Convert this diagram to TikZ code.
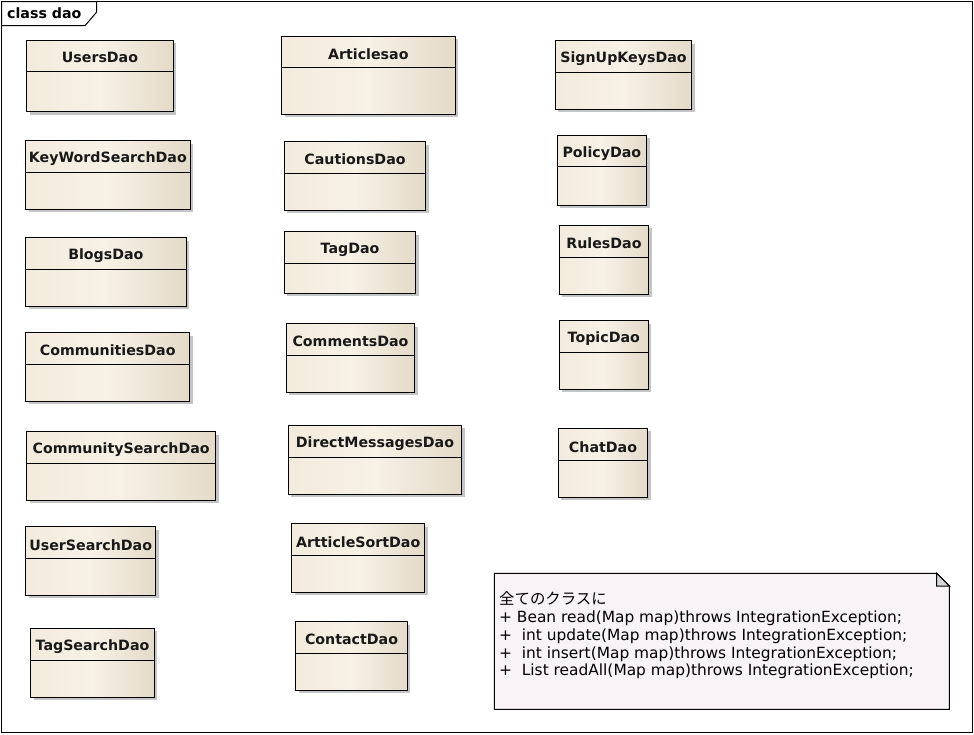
\documentclass[tikz,border=0pt]{standalone}
\usepackage{fontspec}
\setmainfont{DejaVu Sans}
\newfontfamily\jpfont{Noto Sans CJK JP}
\usetikzlibrary{shadows}

\definecolor{clsL}{HTML}{F3EBDC}
\definecolor{clsM}{HTML}{F7F1E6}
\definecolor{clsR}{HTML}{E4DAC8}
\definecolor{notefill}{HTML}{F7F3F7}
\definecolor{foldfill}{HTML}{D8D5D9}

\tikzset{
  classbox/.style={anchor=north west, draw=black, line width=1pt,
    inner sep=0pt, outer sep=0pt,
    left color=clsL, right color=clsR, middle color=clsM,
    drop shadow={shadow xshift=3pt, shadow yshift=-3pt, fill=black!45, opacity=0.5}},
  classline/.style={draw=black, line width=1pt},
  classtitle/.style={font=\fontsize{14.2}{16}\selectfont\bfseries, inner sep=0pt, text=black!90},
  frameline/.style={draw=black, line width=1pt},
  notebox/.style={draw=black, line width=1pt, fill=notefill},
  notetext/.style={font=\fontsize{15.4}{17.8}\selectfont, align=left, inner sep=0pt, anchor=north west},
}

% one UML class: name, left, top, right, bottom, divider y, title
\newcommand\daoclass[7]{%
  \node[classbox, minimum width={(#4-#2)*1pt}, minimum height={(#5-#3)*1pt}] (#1) at ({#2},{#3}) {};
  \draw[classline] ({#2},{#6}) -- ({#4},{#6});
  \node[classtitle] (#1-title) at ({(#2+#4)/2},{(#3+#6)/2+2.2}) {#7};
}

\begin{document}
\begin{tikzpicture}[x=1pt, y=-1pt]
  \useasboundingbox (0,0) rectangle (974,734);
  \fill[white] (0,0) rectangle (974,734);

  % package frame with its name tab
  \draw[frameline] (1.5,1.5) rectangle (972,732);
  \draw[frameline, fill=white] (1.5,1.5) -- (96.7,1.5) -- (96.7,12) -- (85,25.7) -- (1.5,25.7) -- cycle;
  \node[font=\fontsize{14.2}{16}\selectfont\bfseries, anchor=west, inner sep=0pt] (frametitle) at (7,13.5) {class dao};

  % first column
  \daoclass{users}{26.7}{40}{173.3}{111.7}{71}{UsersDao}
  \daoclass{keyword}{25.7}{140.7}{190}{209}{172.3}{KeyWordSearchDao}
  \daoclass{blogs}{25.7}{237.7}{186}{306}{269.3}{BlogsDao}
  \daoclass{communities}{25.7}{332.7}{189.7}{401}{364}{CommunitiesDao}
  \daoclass{communitysearch}{26.7}{431.7}{215.7}{500.3}{463.3}{CommunitySearchDao}
  \daoclass{usersearch}{25.7}{526.7}{155.7}{595.3}{558.3}{UserSearchDao}
  \daoclass{tagsearch}{30.7}{628.3}{154.3}{697.3}{660.3}{TagSearchDao}

  % second column
  \daoclass{articles}{281.7}{36}{455}{114}{67.3}{Articlesao}
  \daoclass{cautions}{284.3}{141.7}{425.7}{210.3}{173.3}{CautionsDao}
  \daoclass{tag}{284.3}{231.7}{415.7}{293.3}{263.3}{TagDao}
  \daoclass{comments}{286.3}{323.7}{414.7}{392.3}{355.3}{CommentsDao}
  \daoclass{directmessages}{288.3}{425}{461.7}{494}{457}{DirectMessagesDao}
  \daoclass{articlesort}{291.7}{523.7}{424.7}{592}{555.3}{ArtticleSortDao}
  \daoclass{contact}{295.7}{621.7}{407.3}{690}{653.3}{ContactDao}

  % third column
  \daoclass{signupkeys}{555.3}{40.7}{691.7}{109.3}{72.3}{SignUpKeysDao}
  \daoclass{policy}{557}{135.3}{646.7}{205}{166.7}{PolicyDao}
  \daoclass{rules}{559.3}{225}{648.7}{294}{257.3}{RulesDao}
  \daoclass{topic}{559.3}{320.7}{648.3}{389.3}{352.7}{TopicDao}
  \daoclass{chat}{558.3}{428.3}{647.7}{497.3}{460.7}{ChatDao}

  % note with folded corner
  \draw[notebox] (494.3,573.3) -- (936.7,573.3) -- (949.3,586) -- (949.3,709.3) -- (494.3,709.3) -- cycle;
  \draw[line width=1pt, fill=foldfill] (936.7,573.3) -- (936.7,586) -- (949.3,586) -- cycle;
  \node[notetext] (notebody) at (499,591.5) {%
    {\jpfont 全てのクラスに}\\
    + Bean read(Map map)throws IntegrationException;\\
    +\ \ int update(Map map)throws IntegrationException;\\
    +\ \ int insert(Map map)throws IntegrationException;\\
    +\ \ List readAll(Map map)throws IntegrationException;};
\end{tikzpicture}
\end{document}
